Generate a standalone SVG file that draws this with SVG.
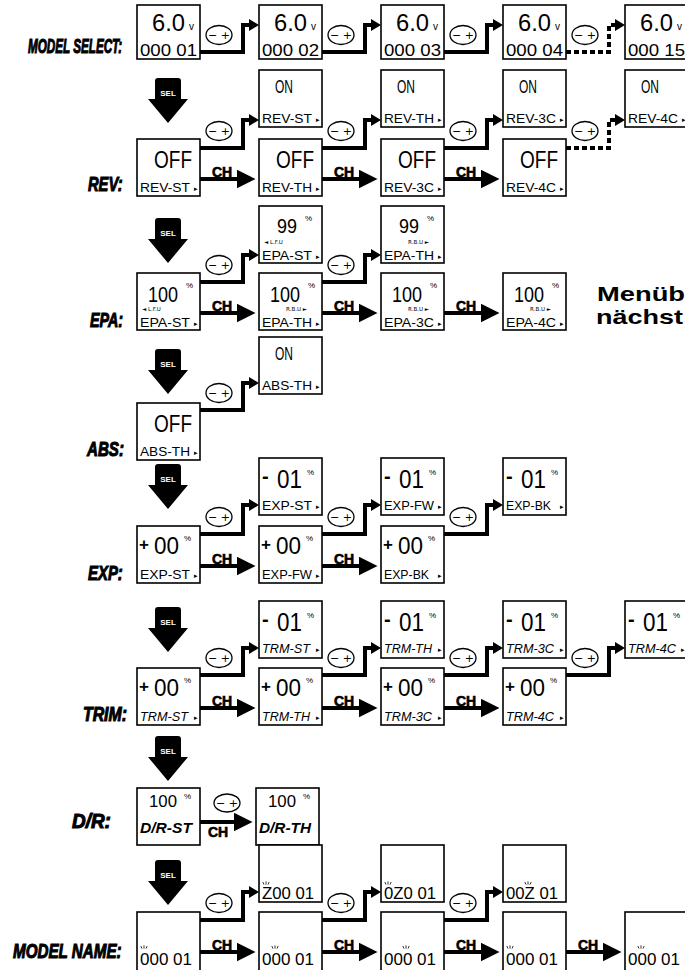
<svg xmlns="http://www.w3.org/2000/svg" width="685" height="970" viewBox="0 0 685 970">
<style>
.bx{fill:#fff;stroke:#000;stroke-width:1.6}
.lcd{font-family:"Liberation Sans",Arial,sans-serif;fill:#000}
.sans{font-family:"Liberation Sans",Arial,sans-serif;fill:#000}
.dv{font-family:"DejaVu Sans",sans-serif;fill:#000}
.row{font-family:"Liberation Sans",Arial,sans-serif;font-weight:bold;font-style:italic;font-size:21px;stroke:#000;stroke-width:1.1}
.ch{font-family:"Liberation Sans",Arial,sans-serif;font-weight:bold;font-size:14px;stroke:#000;stroke-width:0.6}
.pm{fill:#fff;stroke:#000;stroke-width:1.3}
.pmt{font-family:"DejaVu Sans",sans-serif;font-size:11px;text-anchor:middle}
.ln{fill:none;stroke:#000;stroke-width:4}
.dsh{stroke-dasharray:5 3}
.sel{font-family:"Liberation Sans",Arial,sans-serif;font-weight:bold;font-size:8px;fill:#fff;text-anchor:middle}
.f6{font-size:23px}.f7{font-size:17px}.f8{font-size:10px}
.on{font-size:18px}.off{font-size:23px}.lb{font-size:13.5px}
.n99{font-size:21px}.n100{font-size:22px}.pc{font-size:8px}.tiny{font-size:5.5px}
.m01{font-size:25px}.m00{font-size:24px}.sg1{font-size:20px;font-weight:bold}.sg2{font-size:17px;font-weight:bold}
.trm{font-size:12px;font-style:italic}
.drn{font-size:17px}.drl{font-size:14px;font-style:italic;font-weight:bold}
.mn{font-size:17px}.tr{font-size:7px}.end{text-anchor:end}
.big{font-family:"Liberation Sans",Arial,sans-serif;font-weight:bold;font-size:21px}
</style>
<defs>
<marker id="a1" viewBox="0 0 10 12" refX="0" refY="6" markerWidth="10" markerHeight="12" markerUnits="userSpaceOnUse" orient="auto"><path d="M0,0L10,6L0,12z"/></marker>
<marker id="a2" viewBox="0 0 19 19" refX="0.5" refY="9.5" markerWidth="19" markerHeight="19" markerUnits="userSpaceOnUse" orient="auto"><path d="M0,0L19,9.5L0,19z"/></marker>
<path id="selp" d="M-13,21V3Q-13,0-10,0H10Q13,0 13,3V21H20L0,45L-20,21Z"/>
<path id="blink" d="M-3.2,0l1.2,2.6M0,-0.6v3.2M3.2,0l-1.2,2.6" fill="none" stroke="#000" stroke-width="0.8"/>
</defs>
<rect width="685" height="970" fill="#fff"/>

<g id="labels">
<text class="row" transform="translate(28,53) scale(0.556,1)">MODEL SELECT:</text>
<text class="row" transform="translate(88,191) scale(0.7,1)">REV:</text>
<text class="row" transform="translate(90,327) scale(0.68,1)">EPA:</text>
<text class="row" transform="translate(87,456) scale(0.72,1)">ABS:</text>
<text class="row" transform="translate(88,580) scale(0.71,1)">EXP:</text>
<text class="row" transform="translate(83,721) scale(0.755,1)">TRIM:</text>
<text class="row" transform="translate(72,828) scale(0.9,1)">D/R:</text>
<text class="row" transform="translate(13,958) scale(0.724,1)">MODEL NAME:</text>
<text class="big" x="597" y="301" textLength="88" lengthAdjust="spacingAndGlyphs">Menüb</text>
<text class="big" x="596" y="324" textLength="87" lengthAdjust="spacingAndGlyphs">nächst</text>
</g>

<g id="connectors">
<use href="#selp" x="168" y="78"/><text class="sel" x="168" y="96">SEL</text>
<use href="#selp" x="168" y="218"/><text class="sel" x="168" y="236">SEL</text>
<use href="#selp" x="168" y="349"/><text class="sel" x="168" y="367">SEL</text>
<use href="#selp" x="168" y="464"/><text class="sel" x="168" y="482">SEL</text>
<use href="#selp" x="168" y="607"/><text class="sel" x="168" y="625">SEL</text>
<use href="#selp" x="168" y="736"/><text class="sel" x="168" y="754">SEL</text>
<use href="#selp" x="168" y="860"/><text class="sel" x="168" y="878">SEL</text>
<path class="ln" d="M200,52H243V25H249" marker-end="url(#a1)"/>
<path class="ln" d="M322,52H365V25H371" marker-end="url(#a1)"/>
<path class="ln" d="M444,52H487V25H493" marker-end="url(#a1)"/>
<path class="ln dsh" d="M566,52H609V25H615" marker-end="url(#a1)"/>
<ellipse class="pm" cx="219" cy="35" rx="13" ry="9.5"/><text class="pmt" x="219" y="39">− +</text>
<ellipse class="pm" cx="341" cy="35" rx="13" ry="9.5"/><text class="pmt" x="341" y="39">− +</text>
<ellipse class="pm" cx="463" cy="35" rx="13" ry="9.5"/><text class="pmt" x="463" y="39">− +</text>
<ellipse class="pm" cx="585" cy="35" rx="13" ry="9.5"/><text class="pmt" x="585" y="39">− +</text>
<path class="ln" d="M200,148H243V120H249" marker-end="url(#a1)"/>
<path class="ln" d="M322,148H365V120H371" marker-end="url(#a1)"/>
<path class="ln" d="M444,148H487V120H493" marker-end="url(#a1)"/>
<path class="ln dsh" d="M566,148H609V120H615" marker-end="url(#a1)"/>
<ellipse class="pm" cx="219" cy="131" rx="13" ry="9.5"/><text class="pmt" x="219" y="135">− +</text>
<ellipse class="pm" cx="341" cy="131" rx="13" ry="9.5"/><text class="pmt" x="341" y="135">− +</text>
<ellipse class="pm" cx="463" cy="131" rx="13" ry="9.5"/><text class="pmt" x="463" y="135">− +</text>
<ellipse class="pm" cx="585" cy="131" rx="13" ry="9.5"/><text class="pmt" x="585" y="135">− +</text>
<path class="ln" d="M200,179H237" marker-end="url(#a2)"/><text class="ch" x="212" y="177">CH</text>
<path class="ln" d="M322,179H359" marker-end="url(#a2)"/><text class="ch" x="334" y="177">CH</text>
<path class="ln" d="M444,179H481" marker-end="url(#a2)"/><text class="ch" x="456" y="177">CH</text>
<path class="ln" d="M200,282H243V255H249" marker-end="url(#a1)"/>
<path class="ln" d="M322,282H365V255H371" marker-end="url(#a1)"/>
<ellipse class="pm" cx="219" cy="265" rx="13" ry="9.5"/><text class="pmt" x="219" y="269">− +</text>
<ellipse class="pm" cx="341" cy="265" rx="13" ry="9.5"/><text class="pmt" x="341" y="269">− +</text>
<path class="ln" d="M200,313H237" marker-end="url(#a2)"/><text class="ch" x="212" y="311">CH</text>
<path class="ln" d="M322,313H359" marker-end="url(#a2)"/><text class="ch" x="334" y="311">CH</text>
<path class="ln" d="M444,313H481" marker-end="url(#a2)"/><text class="ch" x="456" y="311">CH</text>
<path class="ln" d="M200,410H243V383H249" marker-end="url(#a1)"/>
<ellipse class="pm" cx="219" cy="393" rx="13" ry="9.5"/><text class="pmt" x="219" y="397">− +</text>
<path class="ln" d="M200,534H243V505H249" marker-end="url(#a1)"/>
<path class="ln" d="M322,534H365V505H371" marker-end="url(#a1)"/>
<path class="ln" d="M444,534H487V505H493" marker-end="url(#a1)"/>
<ellipse class="pm" cx="219" cy="517" rx="13" ry="9.5"/><text class="pmt" x="219" y="521">− +</text>
<ellipse class="pm" cx="341" cy="517" rx="13" ry="9.5"/><text class="pmt" x="341" y="521">− +</text>
<ellipse class="pm" cx="463" cy="517" rx="13" ry="9.5"/><text class="pmt" x="463" y="521">− +</text>
<path class="ln" d="M200,566H237" marker-end="url(#a2)"/><text class="ch" x="212" y="564">CH</text>
<path class="ln" d="M322,566H359" marker-end="url(#a2)"/><text class="ch" x="334" y="564">CH</text>
<path class="ln" d="M200,675H243V648H249" marker-end="url(#a1)"/>
<path class="ln" d="M322,675H365V648H371" marker-end="url(#a1)"/>
<path class="ln" d="M444,675H487V648H493" marker-end="url(#a1)"/>
<path class="ln" d="M566,675H609V648H615" marker-end="url(#a1)"/>
<ellipse class="pm" cx="219" cy="658" rx="13" ry="9.5"/><text class="pmt" x="219" y="662">− +</text>
<ellipse class="pm" cx="341" cy="658" rx="13" ry="9.5"/><text class="pmt" x="341" y="662">− +</text>
<ellipse class="pm" cx="463" cy="658" rx="13" ry="9.5"/><text class="pmt" x="463" y="662">− +</text>
<ellipse class="pm" cx="585" cy="658" rx="13" ry="9.5"/><text class="pmt" x="585" y="662">− +</text>
<path class="ln" d="M200,708H237" marker-end="url(#a2)"/><text class="ch" x="212" y="706">CH</text>
<path class="ln" d="M322,708H359" marker-end="url(#a2)"/><text class="ch" x="334" y="706">CH</text>
<path class="ln" d="M444,708H481" marker-end="url(#a2)"/><text class="ch" x="456" y="706">CH</text>
<path class="ln" d="M200,822H234" marker-end="url(#a2)"/>
<ellipse class="pm" cx="227" cy="803" rx="13" ry="9"/><text class="pmt" x="227" y="807">− +</text>
<text class="ch" x="208" y="837">CH</text>
<path class="ln" d="M200,920H243V892H249" marker-end="url(#a1)"/>
<path class="ln" d="M322,920H365V892H371" marker-end="url(#a1)"/>
<path class="ln" d="M444,920H487V892H493" marker-end="url(#a1)"/>
<ellipse class="pm" cx="219" cy="903" rx="13" ry="9.5"/><text class="pmt" x="219" y="907">− +</text>
<ellipse class="pm" cx="341" cy="903" rx="13" ry="9.5"/><text class="pmt" x="341" y="907">− +</text>
<ellipse class="pm" cx="463" cy="903" rx="13" ry="9.5"/><text class="pmt" x="463" y="907">− +</text>
<path class="ln" d="M200,952H237" marker-end="url(#a2)"/><text class="ch" x="212" y="950">CH</text>
<path class="ln" d="M322,952H359" marker-end="url(#a2)"/><text class="ch" x="334" y="950">CH</text>
<path class="ln" d="M444,952H481" marker-end="url(#a2)"/><text class="ch" x="456" y="950">CH</text>
<path class="ln" d="M566,952H603" marker-end="url(#a2)"/><text class="ch" x="578" y="950">CH</text>
</g>

<g id="nodes">
<g id="ms1"><rect class="bx" x="137" y="5" width="63" height="54"/><text class="lcd f6" x="152" y="31" textLength="33" lengthAdjust="spacingAndGlyphs">6.0</text><text class="lcd f8" x="189" y="30">v</text><text class="lcd f7" x="140" y="56" textLength="57" lengthAdjust="spacingAndGlyphs">000 01</text></g>
<g id="ms2"><rect class="bx" x="259" y="5" width="63" height="54"/><text class="lcd f6" x="274" y="31" textLength="33" lengthAdjust="spacingAndGlyphs">6.0</text><text class="lcd f8" x="311" y="30">v</text><text class="lcd f7" x="262" y="56" textLength="57" lengthAdjust="spacingAndGlyphs">000 02</text></g>
<g id="ms3"><rect class="bx" x="381" y="5" width="63" height="54"/><text class="lcd f6" x="396" y="31" textLength="33" lengthAdjust="spacingAndGlyphs">6.0</text><text class="lcd f8" x="433" y="30">v</text><text class="lcd f7" x="384" y="56" textLength="57" lengthAdjust="spacingAndGlyphs">000 03</text></g>
<g id="ms4"><rect class="bx" x="503" y="5" width="63" height="54"/><text class="lcd f6" x="518" y="31" textLength="33" lengthAdjust="spacingAndGlyphs">6.0</text><text class="lcd f8" x="555" y="30">v</text><text class="lcd f7" x="506" y="56" textLength="57" lengthAdjust="spacingAndGlyphs">000 04</text></g>
<g id="ms5"><rect class="bx" x="625" y="5" width="63" height="54"/><text class="lcd f6" x="640" y="31" textLength="33" lengthAdjust="spacingAndGlyphs">6.0</text><text class="lcd f8" x="677" y="30">v</text><text class="lcd f7" x="628" y="56" textLength="57" lengthAdjust="spacingAndGlyphs">000 15</text></g>
<g id="rev-on-st"><rect class="bx" x="259" y="70" width="63" height="57"/><text class="lcd on" x="275" y="93" textLength="18" lengthAdjust="spacingAndGlyphs">ON</text><text class="lcd lb" x="262" y="123" textLength="50" lengthAdjust="spacingAndGlyphs">REV-ST</text><text class="dv tr" x="316" y="122">▸</text></g>
<g id="rev-on-th"><rect class="bx" x="381" y="70" width="63" height="57"/><text class="lcd on" x="397" y="93" textLength="18" lengthAdjust="spacingAndGlyphs">ON</text><text class="lcd lb" x="384" y="123" textLength="50" lengthAdjust="spacingAndGlyphs">REV-TH</text><text class="dv tr" x="438" y="122">▸</text></g>
<g id="rev-on-3c"><rect class="bx" x="503" y="70" width="63" height="57"/><text class="lcd on" x="519" y="93" textLength="18" lengthAdjust="spacingAndGlyphs">ON</text><text class="lcd lb" x="506" y="123" textLength="50" lengthAdjust="spacingAndGlyphs">REV-3C</text><text class="dv tr" x="560" y="122">▸</text></g>
<g id="rev-on-4c"><rect class="bx" x="625" y="70" width="63" height="57"/><text class="lcd on" x="641" y="93" textLength="18" lengthAdjust="spacingAndGlyphs">ON</text><text class="lcd lb" x="628" y="123" textLength="50" lengthAdjust="spacingAndGlyphs">REV-4C</text><text class="dv tr" x="682" y="122">▸</text></g>
<g id="rev-off-st"><rect class="bx" x="137" y="139" width="63" height="57"/><text class="lcd off" x="154" y="168" textLength="38" lengthAdjust="spacingAndGlyphs">OFF</text><text class="lcd lb" x="140" y="192" textLength="50" lengthAdjust="spacingAndGlyphs">REV-ST</text><text class="dv tr" x="194" y="191">▸</text></g>
<g id="rev-off-th"><rect class="bx" x="259" y="139" width="63" height="57"/><text class="lcd off" x="276" y="168" textLength="38" lengthAdjust="spacingAndGlyphs">OFF</text><text class="lcd lb" x="262" y="192" textLength="50" lengthAdjust="spacingAndGlyphs">REV-TH</text><text class="dv tr" x="316" y="191">▸</text></g>
<g id="rev-off-3c"><rect class="bx" x="381" y="139" width="63" height="57"/><text class="lcd off" x="398" y="168" textLength="38" lengthAdjust="spacingAndGlyphs">OFF</text><text class="lcd lb" x="384" y="192" textLength="50" lengthAdjust="spacingAndGlyphs">REV-3C</text><text class="dv tr" x="438" y="191">▸</text></g>
<g id="rev-off-4c"><rect class="bx" x="503" y="139" width="63" height="57"/><text class="lcd off" x="520" y="168" textLength="38" lengthAdjust="spacingAndGlyphs">OFF</text><text class="lcd lb" x="506" y="192" textLength="50" lengthAdjust="spacingAndGlyphs">REV-4C</text><text class="dv tr" x="560" y="191">▸</text></g>
<g id="epa-99-st"><rect class="bx" x="259" y="206" width="63" height="57"/><text class="lcd n99" x="277" y="233" textLength="20" lengthAdjust="spacingAndGlyphs">99</text><text class="sans pc" x="305" y="221">%</text><text class="dv tiny" x="264" y="244">◄ L.F.U</text><text class="lcd lb" x="262" y="260" textLength="50" lengthAdjust="spacingAndGlyphs">EPA-ST</text><text class="dv tr" x="316" y="259">▸</text></g>
<g id="epa-99-th"><rect class="bx" x="381" y="206" width="63" height="57"/><text class="lcd n99" x="399" y="233" textLength="20" lengthAdjust="spacingAndGlyphs">99</text><text class="sans pc" x="427" y="221">%</text><text class="dv tiny end" x="429" y="244">R.B.U ►</text><text class="lcd lb" x="384" y="260" textLength="50" lengthAdjust="spacingAndGlyphs">EPA-TH</text><text class="dv tr" x="438" y="259">▸</text></g>
<g id="epa-100-st"><rect class="bx" x="137" y="273" width="63" height="57"/><text class="lcd n100" x="148" y="302" textLength="30" lengthAdjust="spacingAndGlyphs">100</text><text class="sans pc" x="186" y="288">%</text><text class="dv tiny" x="142" y="311">◄ L.F.U</text><text class="lcd lb" x="140" y="327" textLength="50" lengthAdjust="spacingAndGlyphs">EPA-ST</text><text class="dv tr" x="194" y="326">▸</text></g>
<g id="epa-100-th"><rect class="bx" x="259" y="273" width="63" height="57"/><text class="lcd n100" x="270" y="302" textLength="30" lengthAdjust="spacingAndGlyphs">100</text><text class="sans pc" x="308" y="288">%</text><text class="dv tiny end" x="307" y="311">R.B.U ►</text><text class="lcd lb" x="262" y="327" textLength="50" lengthAdjust="spacingAndGlyphs">EPA-TH</text><text class="dv tr" x="316" y="326">▸</text></g>
<g id="epa-100-3c"><rect class="bx" x="381" y="273" width="63" height="57"/><text class="lcd n100" x="392" y="302" textLength="30" lengthAdjust="spacingAndGlyphs">100</text><text class="sans pc" x="430" y="288">%</text><text class="dv tiny end" x="429" y="311">R.B.U ►</text><text class="lcd lb" x="384" y="327" textLength="50" lengthAdjust="spacingAndGlyphs">EPA-3C</text><text class="dv tr" x="438" y="326">▸</text></g>
<g id="epa-100-4c"><rect class="bx" x="503" y="273" width="63" height="57"/><text class="lcd n100" x="514" y="302" textLength="30" lengthAdjust="spacingAndGlyphs">100</text><text class="sans pc" x="552" y="288">%</text><text class="dv tiny end" x="551" y="311">R.B.U ►</text><text class="lcd lb" x="506" y="327" textLength="50" lengthAdjust="spacingAndGlyphs">EPA-4C</text><text class="dv tr" x="560" y="326">▸</text></g>
<g id="abs-on"><rect class="bx" x="259" y="337" width="63" height="57"/><text class="lcd on" x="275" y="360" textLength="18" lengthAdjust="spacingAndGlyphs">ON</text><text class="lcd lb" x="262" y="390" textLength="50" lengthAdjust="spacingAndGlyphs">ABS-TH</text><text class="dv tr" x="316" y="389">▸</text></g>
<g id="abs-off"><rect class="bx" x="137" y="403" width="63" height="57"/><text class="lcd off" x="154" y="432" textLength="38" lengthAdjust="spacingAndGlyphs">OFF</text><text class="lcd lb" x="140" y="456" textLength="50" lengthAdjust="spacingAndGlyphs">ABS-TH</text><text class="dv tr" x="194" y="455">▸</text></g>
<g id="exp-m-st"><rect class="bx" x="259" y="458" width="63" height="57"/><text class="sans sg1" x="262" y="483">-</text><text class="lcd m01" x="277" y="488" textLength="25" lengthAdjust="spacingAndGlyphs">01</text><text class="sans pc" x="307" y="475">%</text><text class="lcd lb" x="262" y="510" textLength="50" lengthAdjust="spacingAndGlyphs">EXP-ST</text><text class="dv tr" x="316" y="509">▸</text></g>
<g id="exp-m-fw"><rect class="bx" x="381" y="458" width="63" height="57"/><text class="sans sg1" x="384" y="483">-</text><text class="lcd m01" x="399" y="488" textLength="25" lengthAdjust="spacingAndGlyphs">01</text><text class="sans pc" x="429" y="475">%</text><text class="lcd lb" x="384" y="510" textLength="50" lengthAdjust="spacingAndGlyphs">EXP-FW</text><text class="dv tr" x="438" y="509">▸</text></g>
<g id="exp-m-bk"><rect class="bx" x="503" y="458" width="63" height="57"/><text class="sans sg1" x="506" y="483">-</text><text class="lcd m01" x="521" y="488" textLength="25" lengthAdjust="spacingAndGlyphs">01</text><text class="sans pc" x="551" y="475">%</text><text class="lcd lb" x="506" y="510" textLength="45" lengthAdjust="spacingAndGlyphs">EXP-BK</text><text class="dv tr" x="560" y="509">▸</text></g>
<g id="exp-p-st"><rect class="bx" x="137" y="526" width="63" height="57"/><text class="sans sg2" x="139" y="550">+</text><text class="lcd m00" x="154" y="554" textLength="25" lengthAdjust="spacingAndGlyphs">00</text><text class="sans pc" x="184" y="541">%</text><text class="lcd lb" x="140" y="579" textLength="50" lengthAdjust="spacingAndGlyphs">EXP-ST</text><text class="dv tr" x="194" y="578">▸</text></g>
<g id="exp-p-fw"><rect class="bx" x="259" y="526" width="63" height="57"/><text class="sans sg2" x="261" y="550">+</text><text class="lcd m00" x="276" y="554" textLength="25" lengthAdjust="spacingAndGlyphs">00</text><text class="sans pc" x="306" y="541">%</text><text class="lcd lb" x="262" y="579" textLength="50" lengthAdjust="spacingAndGlyphs">EXP-FW</text><text class="dv tr" x="316" y="578">▸</text></g>
<g id="exp-p-bk"><rect class="bx" x="381" y="526" width="63" height="57"/><text class="sans sg2" x="383" y="550">+</text><text class="lcd m00" x="398" y="554" textLength="25" lengthAdjust="spacingAndGlyphs">00</text><text class="sans pc" x="428" y="541">%</text><text class="lcd lb" x="384" y="579" textLength="45" lengthAdjust="spacingAndGlyphs">EXP-BK</text><text class="dv tr" x="438" y="578">▸</text></g>
<g id="trm-m-st"><rect class="bx" x="259" y="601" width="63" height="57"/><text class="sans sg1" x="262" y="626">-</text><text class="lcd m01" x="277" y="631" textLength="25" lengthAdjust="spacingAndGlyphs">01</text><text class="sans pc" x="307" y="618">%</text><text class="sans trm" x="262" y="653" textLength="48" lengthAdjust="spacingAndGlyphs">TRM-ST</text><text class="dv tr" x="316" y="652">▸</text></g>
<g id="trm-m-th"><rect class="bx" x="381" y="601" width="63" height="57"/><text class="sans sg1" x="384" y="626">-</text><text class="lcd m01" x="399" y="631" textLength="25" lengthAdjust="spacingAndGlyphs">01</text><text class="sans pc" x="429" y="618">%</text><text class="sans trm" x="384" y="653" textLength="48" lengthAdjust="spacingAndGlyphs">TRM-TH</text><text class="dv tr" x="438" y="652">▸</text></g>
<g id="trm-m-3c"><rect class="bx" x="503" y="601" width="63" height="57"/><text class="sans sg1" x="506" y="626">-</text><text class="lcd m01" x="521" y="631" textLength="25" lengthAdjust="spacingAndGlyphs">01</text><text class="sans pc" x="551" y="618">%</text><text class="sans trm" x="506" y="653" textLength="48" lengthAdjust="spacingAndGlyphs">TRM-3C</text><text class="dv tr" x="560" y="652">▸</text></g>
<g id="trm-m-4c"><rect class="bx" x="625" y="601" width="63" height="57"/><text class="sans sg1" x="628" y="626">-</text><text class="lcd m01" x="643" y="631" textLength="25" lengthAdjust="spacingAndGlyphs">01</text><text class="sans pc" x="673" y="618">%</text><text class="sans trm" x="628" y="653" textLength="48" lengthAdjust="spacingAndGlyphs">TRM-4C</text><text class="dv tr" x="681" y="652">▸</text></g>
<g id="trm-p-st"><rect class="bx" x="137" y="668" width="63" height="57"/><text class="sans sg2" x="139" y="692">+</text><text class="lcd m00" x="154" y="696" textLength="25" lengthAdjust="spacingAndGlyphs">00</text><text class="sans pc" x="184" y="683">%</text><text class="sans trm" x="140" y="721" textLength="48" lengthAdjust="spacingAndGlyphs">TRM-ST</text><text class="dv tr" x="194" y="720">▸</text></g>
<g id="trm-p-th"><rect class="bx" x="259" y="668" width="63" height="57"/><text class="sans sg2" x="261" y="692">+</text><text class="lcd m00" x="276" y="696" textLength="25" lengthAdjust="spacingAndGlyphs">00</text><text class="sans pc" x="306" y="683">%</text><text class="sans trm" x="262" y="721" textLength="48" lengthAdjust="spacingAndGlyphs">TRM-TH</text><text class="dv tr" x="316" y="720">▸</text></g>
<g id="trm-p-3c"><rect class="bx" x="381" y="668" width="63" height="57"/><text class="sans sg2" x="383" y="692">+</text><text class="lcd m00" x="398" y="696" textLength="25" lengthAdjust="spacingAndGlyphs">00</text><text class="sans pc" x="428" y="683">%</text><text class="sans trm" x="384" y="721" textLength="48" lengthAdjust="spacingAndGlyphs">TRM-3C</text><text class="dv tr" x="438" y="720">▸</text></g>
<g id="trm-p-4c"><rect class="bx" x="503" y="668" width="63" height="57"/><text class="sans sg2" x="505" y="692">+</text><text class="lcd m00" x="520" y="696" textLength="25" lengthAdjust="spacingAndGlyphs">00</text><text class="sans pc" x="550" y="683">%</text><text class="sans trm" x="506" y="721" textLength="48" lengthAdjust="spacingAndGlyphs">TRM-4C</text><text class="dv tr" x="560" y="720">▸</text></g>
<g id="dr-st"><rect class="bx" x="137" y="788" width="63" height="57"/><text class="lcd drn" x="149" y="807" textLength="28" lengthAdjust="spacingAndGlyphs">100</text><text class="sans pc" x="184" y="799">%</text><text class="sans drl" x="140" y="833" textLength="52" lengthAdjust="spacingAndGlyphs">D/R-ST</text></g>
<g id="dr-th"><rect class="bx" x="256" y="788" width="63" height="57"/><text class="lcd drn" x="268" y="807" textLength="28" lengthAdjust="spacingAndGlyphs">100</text><text class="sans pc" x="303" y="799">%</text><text class="sans drl" x="259" y="833" textLength="52" lengthAdjust="spacingAndGlyphs">D/R-TH</text></g>
<g id="mn-z1"><rect class="bx" x="259" y="845" width="63" height="57"/><use href="#blink" x="266" y="882"/><text class="lcd mn" x="262" y="899" textLength="52" lengthAdjust="spacingAndGlyphs">Z00 01</text></g>
<g id="mn-z2"><rect class="bx" x="381" y="845" width="63" height="57"/><use href="#blink" x="388" y="882"/><text class="lcd mn" x="384" y="899" textLength="52" lengthAdjust="spacingAndGlyphs">0Z0 01</text></g>
<g id="mn-z3"><rect class="bx" x="503" y="845" width="63" height="57"/><use href="#blink" x="528" y="882"/><text class="lcd mn" x="506" y="899" textLength="52" lengthAdjust="spacingAndGlyphs">00Z 01</text></g>
<g id="mn-1"><rect class="bx" x="137" y="912" width="63" height="62"/><use href="#blink" x="144" y="946"/><text class="lcd mn" x="140" y="965" textLength="52" lengthAdjust="spacingAndGlyphs">000 01</text></g>
<g id="mn-2"><rect class="bx" x="259" y="912" width="63" height="62"/><use href="#blink" x="275" y="946"/><text class="lcd mn" x="262" y="965" textLength="52" lengthAdjust="spacingAndGlyphs">000 01</text></g>
<g id="mn-3"><rect class="bx" x="381" y="912" width="63" height="62"/><use href="#blink" x="406" y="946"/><text class="lcd mn" x="384" y="965" textLength="52" lengthAdjust="spacingAndGlyphs">000 01</text></g>
<g id="mn-4"><rect class="bx" x="503" y="912" width="63" height="62"/><use href="#blink" x="510" y="946"/><text class="lcd mn" x="506" y="965" textLength="52" lengthAdjust="spacingAndGlyphs">000 01</text></g>
<g id="mn-5"><rect class="bx" x="625" y="912" width="63" height="62"/><use href="#blink" x="641" y="946"/><text class="lcd mn" x="628" y="965" textLength="52" lengthAdjust="spacingAndGlyphs">000 01</text></g>
</g>
</svg>
